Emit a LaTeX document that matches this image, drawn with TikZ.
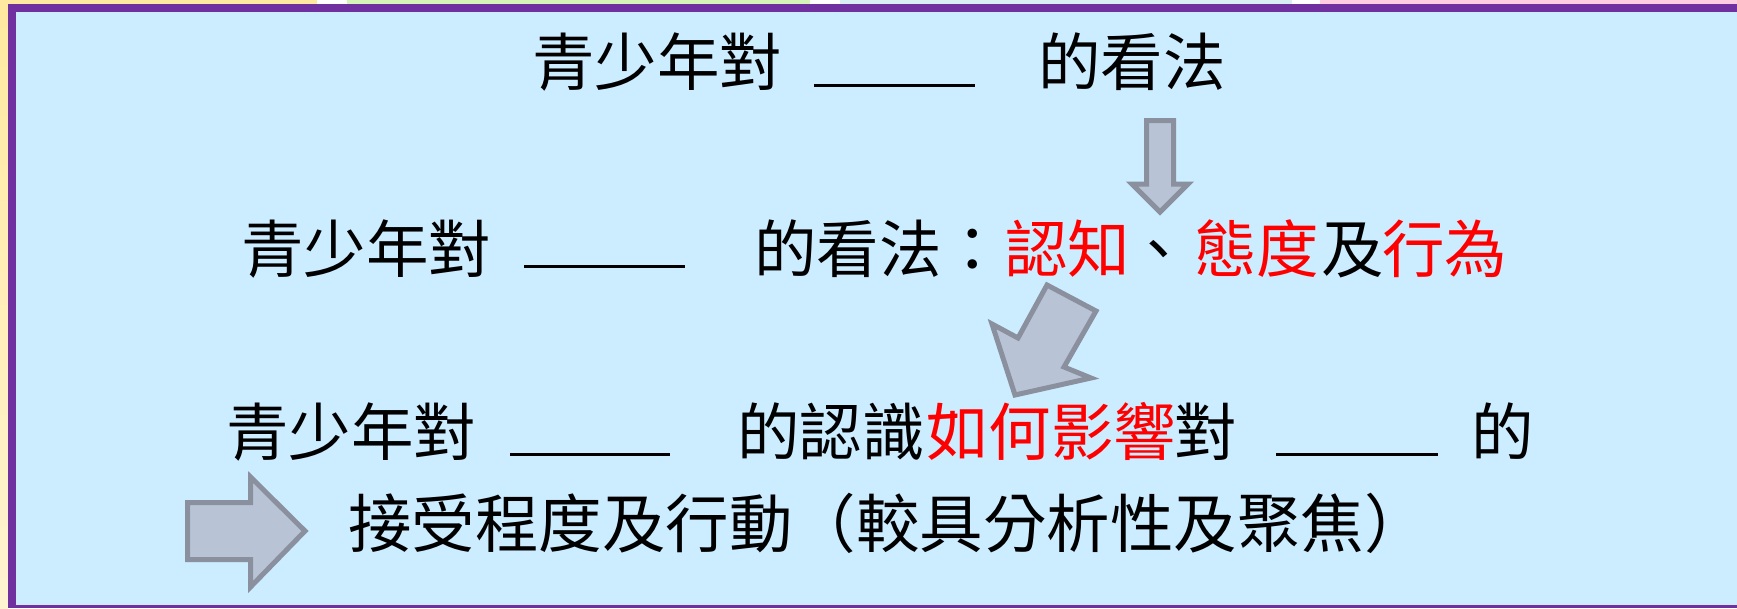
\documentclass[tikz,border=0pt]{standalone}
\usepackage{fontspec}
\newfontfamily\cjk{Noto Sans CJK TC}
\definecolor{panel}{HTML}{CCECFF}
\definecolor{frame}{HTML}{7030A0}
\definecolor{arrowfill}{HTML}{B8C4D6}
\definecolor{arrowline}{HTML}{8A909E}
\definecolor{stripY}{HTML}{FFE9A0}
\definecolor{stripYb}{HTML}{FFF4D2}
\definecolor{stripG}{HTML}{D5F5B8}
\definecolor{stripC}{HTML}{D6EEF4}
\definecolor{stripP}{HTML}{FFCCE2}
\definecolor{hl}{HTML}{FF0000}
\tikzset{
  txt/.style={inner sep=0pt, anchor=base west, font=\cjk\fontsize{62.5}{62.5}\selectfont},
  red/.style={txt, text=hl},
  blank/.style={line width=3pt},
  fatarrow/.style={fill=arrowfill, draw=arrowline, line width=5pt, line join=miter}
}
\begin{document}
\begin{tikzpicture}[x=1pt,y=-1pt]
\useasboundingbox (0,0) rectangle (1737,608);
% background strips
\fill[white] (0,0) rectangle (1737,608);
\shade[top color=stripY, bottom color=stripYb] (0,0) rectangle (8,608);
\fill[stripY] (0,0) rectangle (317,4);
\fill[stripG] (347,0) rectangle (810,4);
\fill[stripC] (840,0) rectangle (1292,4);
\fill[stripP] (1320,0) rectangle (1737,4);
% frame and panel
\fill[frame] (8,4) rectangle (1737,608);
\fill[panel] (16,12) rectangle (1737,605);
% line 1
\node[txt] (a1) at (532,85) {青少年對};
\node[txt] (a2) at (1038,85) {的看法};
\coordinate (u1s) at (814,85); \coordinate (u1e) at (975,85);
\draw[blank] (u1s) -- (u1e);
% line 2
\node[txt] (b1) at (241,272) {青少年對};
\node[txt] (b2) at (754,272) {的看法：};
\node[red] (b3) at (1005,272) {認知};
\node[txt] (b4) at (1127,272) {、};
\node[red] (b5) at (1194,272) {態度};
\node[txt] (b6) at (1321,272) {及};
\node[red] (b7) at (1382,272) {行為};
\coordinate (u2s) at (524,266); \coordinate (u2e) at (685,266);
\draw[blank] (u2s) -- (u2e);
% line 3
\node[txt] (c1) at (226,455) {青少年對};
\node[txt] (c2) at (737,455) {的認識};
\node[red] (c3) at (926,455) {如何影響};
\node[txt] (c4) at (1174,455) {對};
\node[txt] (c5) at (1471,455) {的};
\coordinate (u3s) at (510,454); \coordinate (u3e) at (670,454);
\draw[blank] (u3s) -- (u3e);
\coordinate (u4s) at (1276,454); \coordinate (u4e) at (1438,454);
\draw[blank] (u4s) -- (u4e);
% line 4
\node[txt, font=\cjk\fontsize{63.5}{63.5}\selectfont] (d1) at (348,547) {接受程度及行動（較具分析性及聚焦）};
% arrows
\draw[fatarrow] (1146.5,120.5) -- (1173.5,120.5) -- (1173.5,184) -- (1188,184) -- (1160,212) -- (1132,184) -- (1146.5,184) -- cycle;
\draw[fatarrow] (1047,285) -- (1096,311) -- (1064,367) -- (1091,378) -- (1015,395) -- (992,324) -- (1018,338) -- cycle;
\draw[fatarrow] (187.5,502.5) -- (250.5,502.5) -- (250.5,477) -- (305,531) -- (250.5,587) -- (250.5,559.5) -- (187.5,559.5) -- cycle;
\end{tikzpicture}
\end{document}
